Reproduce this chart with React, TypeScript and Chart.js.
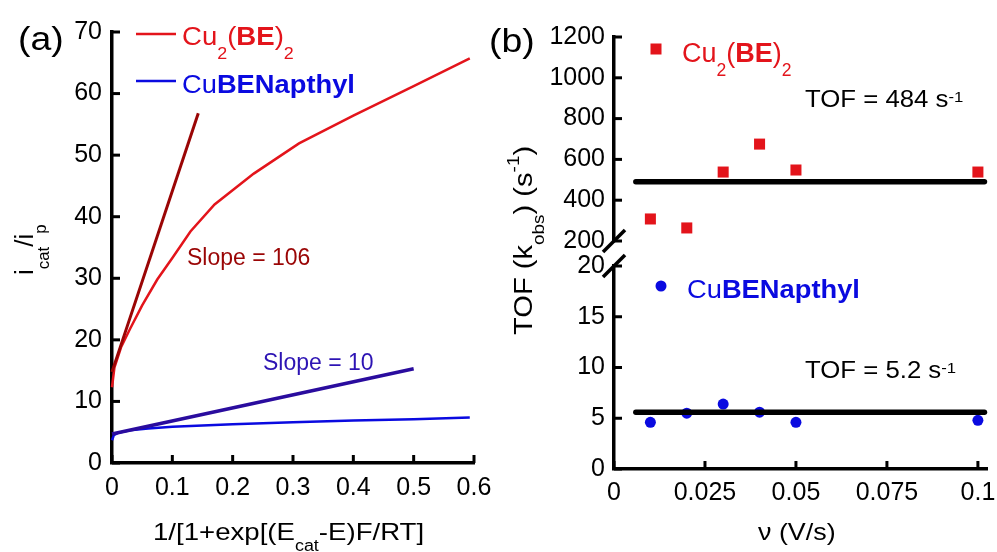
import React, { useEffect, useRef } from 'react';
import { Chart, registerables } from 'chart.js';
Chart.register(...registerables);

const FONT = "'Liberation Sans', Arial, Helvetica, sans-serif";

// ---------- Panel (a) data ----------
const cu2CurveX = [0, 0.004, 0.015, 0.03, 0.05, 0.075, 0.1, 0.13, 0.17, 0.235, 0.31, 0.4, 0.5, 0.593];
const cu2CurveY = [12.3, 15.5, 18.8, 21.8, 25.6, 29.8, 33.3, 37.6, 42, 47, 51.9, 56.4, 61.2, 65.7];
const cu2FitX = [0, 0.143];
const cu2FitY = [14.8, 56.8];
const napCurveX = [0, 0.003, 0.01, 0.03, 0.06, 0.1, 0.2, 0.3, 0.4, 0.5, 0.593];
const napCurveY = [3.7, 4.5, 4.9, 5.3, 5.6, 5.9, 6.3, 6.6, 6.9, 7.1, 7.4];
const napFitX = [0, 0.5];
const napFitY = [4.7, 15.3];

// ---------- Panel (b) data ----------
const scanRates = [0.01, 0.02, 0.03, 0.04, 0.05, 0.1];
const tofCu2 = [308, 264, 538, 675, 548, 538];
const tofNapthyl = [4.6, 5.5, 6.4, 5.6, 4.6, 4.8];
const fitXRange = [0.006, 0.1018];
const fitCu2 = 490;
const fitNapthyl = 5.6;
const bXTickValues = [0, 0.025, 0.05, 0.075, 0.1];
const bXTickLabels = ['0', '0.025', '0.05', '0.075', '0.1'];

const RED = '#e3141b';
const DARK_RED = '#9a0505';
const BLUE = '#0a0ae0';
const DARK_BLUE = '#2a0c9e';

const zip = (xs: number[], ys: number[]) => xs.map((x, i) => ({ x, y: ys[i] }));

type Seg = { t: string; b?: boolean; sub?: boolean; sup?: boolean; dy?: number };

function drawRich(
  ctx: CanvasRenderingContext2D,
  segs: Seg[],
  x: number,
  y: number,
  size: number,
  color: string,
  sx = 1,
  rot = 0
) {
  ctx.save();
  ctx.translate(x, y);
  if (rot) ctx.rotate(rot);
  ctx.scale(sx, 1);
  ctx.fillStyle = color;
  ctx.textBaseline = 'alphabetic';
  ctx.textAlign = 'left';
  let cx = 0;
  for (const s of segs) {
    const small = s.sub || s.sup;
    const fs = small ? size * 0.65 : size;
    ctx.font = `${s.b ? 'bold ' : ''}${fs}px ${FONT}`;
    let dy = 0;
    if (s.sub) dy = size * (s.dy ?? 0.5);
    if (s.sup) dy = size * (s.dy ?? -0.2);
    ctx.fillText(s.t, cx, dy);
    cx += ctx.measureText(s.t).width;
  }
  ctx.restore();
}

const TICK_LEN = 8;
const inwardTicks = {
  id: 'inwardTicks',
  afterDraw(chart: any) {
    const ctx = chart.ctx;
    ctx.save();
    ctx.strokeStyle = '#000';
    ctx.lineWidth = 3;
    for (const id of ['x', 'y']) {
      const s = chart.scales[id];
      if (!s || s.options.display === false) continue;
      for (const t of s.ticks) {
        const p = s.getPixelForValue(t.value);
        ctx.beginPath();
        if (s.isHorizontal()) {
          ctx.moveTo(p, s.top);
          ctx.lineTo(p, s.top - TICK_LEN);
        } else {
          ctx.moveTo(s.right, p);
          ctx.lineTo(s.right + TICK_LEN, p);
        }
        ctx.stroke();
      }
    }
    ctx.restore();
  },
};

const tickFont = { size: 25, family: FONT };
const plainLabel = (v: any) => String(v);

function fixY(width: number) {
  return (scale: any) => {
    scale.width = width;
    scale.paddingTop = 0;
    scale.paddingBottom = 0;
  };
}
function fixX(height: number) {
  return (scale: any) => {
    scale.height = height;
    scale.paddingLeft = 0;
    scale.paddingRight = 0;
  };
}

const panelAText = {
  id: 'panelAText',
  afterDraw(chart: any) {
    const ctx = chart.ctx as CanvasRenderingContext2D;
    drawRich(ctx, [{ t: '(a)' }], 18, 50, 34, '#000', 1.1);
    // legend
    ctx.save();
    ctx.lineWidth = 2.5;
    ctx.strokeStyle = RED;
    ctx.beginPath();
    ctx.moveTo(136, 34);
    ctx.lineTo(176, 34);
    ctx.stroke();
    ctx.strokeStyle = BLUE;
    ctx.beginPath();
    ctx.moveTo(136, 81);
    ctx.lineTo(176, 81);
    ctx.stroke();
    ctx.restore();
    drawRich(
      ctx,
      [{ t: 'Cu' }, { t: '2', sub: true, dy: 0.55 }, { t: '(' }, { t: 'BE', b: true }, { t: ')' }, { t: '2', sub: true, dy: 0.55 }],
      182, 45, 26, RED, 1.06
    );
    drawRich(ctx, [{ t: 'Cu' }, { t: 'BENapthyl', b: true }], 182, 93, 26, BLUE, 1.05);
    drawRich(ctx, [{ t: 'Slope = 106' }], 187, 265, 23, DARK_RED);
    drawRich(ctx, [{ t: 'Slope = 10' }], 263, 370, 23, '#2d14b4');
    // axis titles
    drawRich(ctx, [{ t: '1/[1+exp[(E' }, { t: 'cat', sub: true, dy: 0.45 }, { t: '-E)F/RT]' }], 153, 540, 24, '#000', 1.15);
    drawRich(ctx, [{ t: 'i' }, { t: 'cat', sub: true, dy: 0.6 }, { t: '/i' }, { t: 'p', sub: true, dy: 0.5 }], 33, 275, 26, '#000', 1, -Math.PI / 2);
  },
};

const panelBUpperText = {
  id: 'panelBUpperText',
  afterDraw(chart: any) {
    const ctx = chart.ctx as CanvasRenderingContext2D;
    const a = chart.chartArea;
    ctx.save();
    ctx.strokeStyle = '#000';
    ctx.lineWidth = 3.5;
    ctx.beginPath();
    ctx.moveTo(a.left - 11, a.bottom + 11);
    ctx.lineTo(a.left + 11, a.bottom - 11);
    ctx.stroke();
    ctx.restore();
  },
};

const panelBLowerText = {
  id: 'panelBLowerText',
  afterDraw(chart: any) {
    const ctx = chart.ctx as CanvasRenderingContext2D;
    const a = chart.chartArea;
    ctx.save();
    ctx.strokeStyle = '#000';
    ctx.lineWidth = 3.5;
    ctx.beginPath();
    ctx.moveTo(a.left - 11, a.top + 11);
    ctx.lineTo(a.left + 11, a.top - 11);
    ctx.stroke();
    // legend markers
    ctx.fillStyle = RED;
    ctx.fillRect(656 - 5.5, 49 - 5.5, 11, 11);
    ctx.fillStyle = BLUE;
    ctx.beginPath();
    ctx.arc(661, 286, 5.5, 0, Math.PI * 2);
    ctx.fill();
    ctx.restore();
    drawRich(ctx, [{ t: '(b)' }], 489, 52, 34, '#000', 1.1);
    drawRich(
      ctx,
      [{ t: 'Cu' }, { t: '2', sub: true, dy: 0.5 }, { t: '(' }, { t: 'BE', b: true }, { t: ')' }, { t: '2', sub: true, dy: 0.5 }],
      682, 62, 27, RED, 1.0
    );
    drawRich(ctx, [{ t: 'Cu' }, { t: 'BENapthyl', b: true }], 687, 298, 26, BLUE, 1.05);
    drawRich(ctx, [{ t: 'TOF = 484 s' }, { t: '-1', sup: true, dy: -0.22 }], 805, 107, 23, '#000', 1.12);
    drawRich(ctx, [{ t: 'TOF = 5.2 s' }, { t: '-1', sup: true, dy: -0.22 }], 805, 378, 23, '#000', 1.12);
    drawRich(ctx, [{ t: 'ν (V/s)' }], 758, 540, 24, '#000', 1.12);
    drawRich(
      ctx,
      [{ t: 'TOF (k' }, { t: 'obs', sub: true, dy: 0.48 }, { t: ') (s' }, { t: '-1', sup: true, dy: -0.5 }, { t: ')' }],
      532, 335, 26, '#000', 1.12, -Math.PI / 2
    );
  },
};

const baseOpts = {
  animation: false as const,
  responsive: false,
  maintainAspectRatio: false,
  events: [] as any[],
  plugins: { legend: { display: false }, tooltip: { enabled: false } },
};

const border = { display: true, color: '#000', width: 3.5 };
const noGrid = { display: false, drawTicks: false };

export default function App() {
  const refA = useRef<HTMLCanvasElement>(null);
  const refB1 = useRef<HTMLCanvasElement>(null);
  const refB2 = useRef<HTMLCanvasElement>(null);

  useEffect(() => {
    document.body.style.margin = '0';
    const charts: Chart[] = [];

    charts.push(
      new Chart(refA.current!, {
        type: 'scatter',
        data: {
          datasets: [
            { data: zip(cu2FitX, cu2FitY), showLine: true, borderColor: DARK_RED, borderWidth: 3, pointRadius: 0, clip: false } as any,
            { data: zip(cu2CurveX, cu2CurveY), showLine: true, borderColor: RED, borderWidth: 2.5, pointRadius: 0, clip: false } as any,
            { data: zip(napFitX, napFitY), showLine: true, borderColor: DARK_BLUE, borderWidth: 3.5, pointRadius: 0, clip: false } as any,
            { data: zip(napCurveX, napCurveY), showLine: true, borderColor: BLUE, borderWidth: 2.5, pointRadius: 0, clip: false } as any,
          ],
        },
        options: {
          ...baseOpts,
          layout: { padding: { left: 52, right: 523, top: 32, bottom: 29 } },
          scales: {
            x: {
              type: 'linear', min: 0, max: 0.6,
              ticks: { stepSize: 0.1, font: tickFont, color: '#000', padding: 10, maxRotation: 0, autoSkip: false },
              grid: noGrid, border,
              afterFit: fixX(60),
            },
            y: {
              type: 'linear', min: 0, max: 70,
              ticks: { stepSize: 10, font: tickFont, color: '#000', padding: 10, callback: plainLabel },
              grid: noGrid, border,
              afterFit: fixY(60),
            },
          },
        } as any,
        plugins: [inwardTicks, panelAText],
      })
    );

    charts.push(
      new Chart(refB1.current!, {
        type: 'scatter',
        data: {
          datasets: [
            { data: zip(fitXRange, [fitCu2, fitCu2]), showLine: true, borderColor: '#000', borderWidth: 5.5, borderCapStyle: 'round', pointRadius: 0, clip: false } as any,
            { data: zip(scanRates, tofCu2), pointStyle: 'rect', pointRadius: 7.8, backgroundColor: RED, borderWidth: 0, clip: false } as any,
          ],
        },
        options: {
          ...baseOpts,
          layout: { padding: { left: 534, right: 10, top: 37, bottom: 311 } },
          scales: {
            x: { type: 'linear', min: 0, max: 0.1025, display: false },
            y: {
              type: 'linear', min: 200, max: 1200,
              ticks: { stepSize: 200, font: tickFont, color: '#000', padding: 9, callback: plainLabel },
              grid: noGrid, border,
              afterFit: fixY(80),
            },
          },
        } as any,
        plugins: [inwardTicks, panelBUpperText],
      })
    );

    charts.push(
      new Chart(refB2.current!, {
        type: 'scatter',
        data: {
          datasets: [
            { data: zip(fitXRange, [fitNapthyl, fitNapthyl]), showLine: true, borderColor: '#000', borderWidth: 5.5, borderCapStyle: 'round', pointRadius: 0, clip: false } as any,
            { data: zip(scanRates, tofNapthyl), pointStyle: 'circle', pointRadius: 5.5, backgroundColor: BLUE, borderWidth: 0, clip: false } as any,
          ],
        },
        options: {
          ...baseOpts,
          layout: { padding: { left: 534, right: 10, top: 266, bottom: 23 } },
          scales: {
            x: {
              type: 'linear', min: 0, max: 0.1025,
              afterBuildTicks: (scale: any) => {
                scale.ticks = bXTickValues.map((v) => ({ value: v }));
              },
              ticks: {
                font: tickFont, color: '#000', padding: 9, maxRotation: 0, autoSkip: false,
                callback: (_v: any, i: number) => bXTickLabels[i],
              },
              grid: noGrid, border,
              afterFit: fixX(60),
            },
            y: {
              type: 'linear', min: 0, max: 20,
              ticks: { stepSize: 5, font: tickFont, color: '#000', padding: 9, callback: plainLabel },
              grid: noGrid, border,
              afterFit: fixY(80),
            },
          },
        } as any,
        plugins: [inwardTicks, panelBLowerText],
      })
    );

    return () => charts.forEach((c) => c.destroy());
  }, []);

  const cv: React.CSSProperties = { position: 'absolute', left: 0, top: 0, width: 997, height: 552 };
  return (
    <div style={{ position: 'fixed', left: 0, top: 0, width: 997, height: 552, background: '#fff', overflow: 'hidden' }}>
      <canvas ref={refA} width={997} height={552} style={cv} />
      <canvas ref={refB1} width={997} height={552} style={cv} />
      <canvas ref={refB2} width={997} height={552} style={cv} />
    </div>
  );
}
